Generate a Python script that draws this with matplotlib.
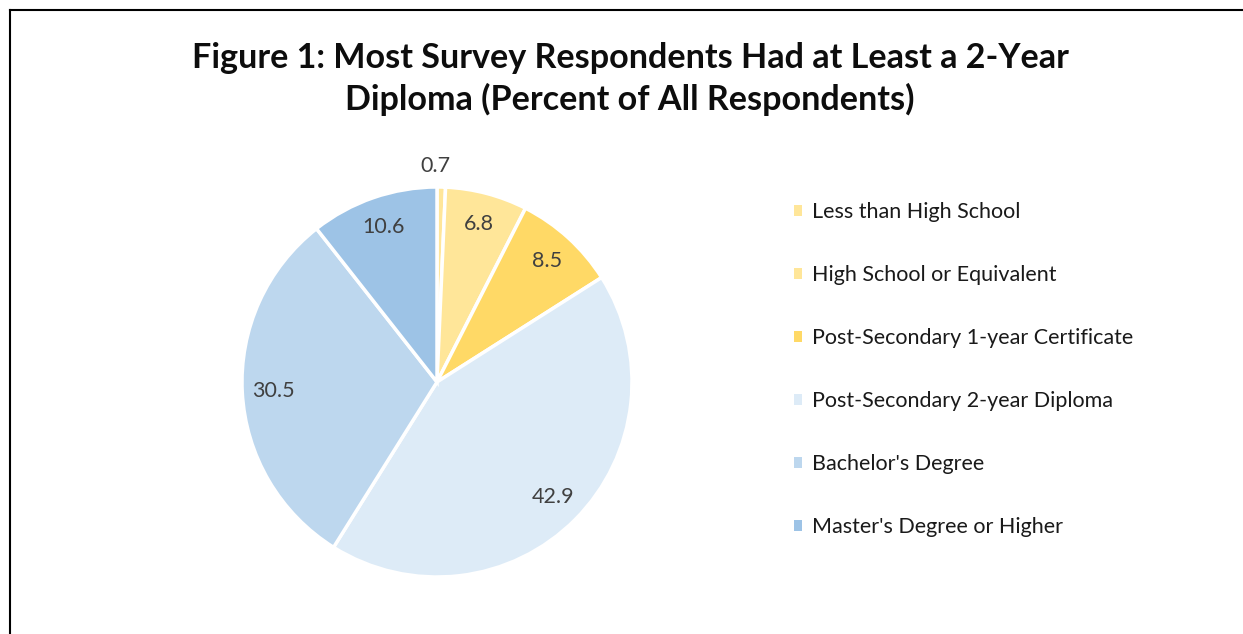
import numpy as np
import matplotlib.pyplot as plt
from matplotlib.lines import Line2D
from matplotlib.patches import Patch

plt.rcParams['font.family'] = ['Lato', 'DejaVu Sans']

categories = [
    "Less than High School",
    "High School or Equivalent",
    "Post-Secondary 1-year Certificate",
    "Post-Secondary 2-year Diploma",
    "Bachelor's Degree",
    "Master's Degree or Higher",
]
values = [0.7, 6.8, 8.5, 42.9, 30.5, 10.6]
colors = ["#FFE699", "#FFE699", "#FFD966", "#DDEBF7", "#BDD7EE", "#9DC3E6"]
title = "Figure 1: Most Survey Respondents Had at Least a 2-Year\nDiploma (Percent of All Respondents)"

W, H = 1243, 634
fig = plt.figure(figsize=(W / 100, H / 100), dpi=100)

# frame lines (left and top only are visible in the crop)
fig.add_artist(Line2D([10 / W, 10 / W], [0, 1 - 10 / H], color="black", lw=1.5))
fig.add_artist(Line2D([10 / W, 1], [1 - 10 / H, 1 - 10 / H], color="black", lw=1.5))

fig.text(630 / W, 1 - 79 / H, title, ha="center", va="center", fontsize=24.6,
         fontweight="bold", color="#0d0d0d", linespacing=1.33)

cx, cy, r = 437, 382, 195
ax = fig.add_axes([(cx - r) / W, (H - cy - r) / H, 2 * r / W, 2 * r / H])
wedges, _ = ax.pie(values, colors=colors, startangle=90, counterclock=False,
                   wedgeprops=dict(edgecolor="white", linewidth=2.5))
ax.set_xlim(-1, 1)
ax.set_ylim(-1, 1)
ax.set_aspect("equal")
ax.axis("off")

for w, v in zip(wedges, values):
    mid = np.deg2rad((w.theta1 + w.theta2) / 2)
    d = 1.11 if v < 2 else 0.84
    if v < 2:
        mid = np.deg2rad(90.5)
    ax.text(d * np.cos(mid), d * np.sin(mid), f"{v:.1f}", ha="center", va="center",
            fontsize=15.5, color="#404040")

handles = [Patch(facecolor=c, edgecolor="none") for c in colors]
leg = fig.legend(handles, categories, loc="upper left",
                 bbox_to_anchor=(783 / W, 1 - 191 / H), frameon=False,
                 fontsize=15.5, handlelength=0.4, handleheight=0.4,
                 handletextpad=0.45, labelspacing=2.0, borderpad=0)
for t in leg.get_texts():
    t.set_color("#1a1a1a")

fig.savefig("out.png", dpi=100)
